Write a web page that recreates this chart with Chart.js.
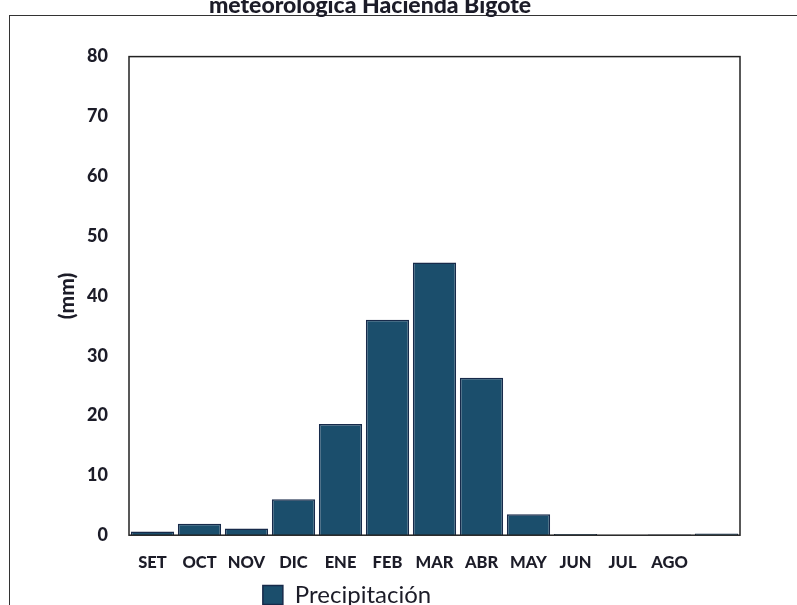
<!DOCTYPE html>
<html>
<head>
<meta charset="utf-8">
<script src="https://cdn.jsdelivr.net/npm/chart.js@4.4.1/dist/chart.umd.min.js"></script>
<style>
  html, body { margin: 0; padding: 0; background: #fff; overflow: hidden; }
  body { width: 797px; height: 605px; position: relative; }
  #frame {
    position: absolute; left: 9px; top: 15px; width: 800px; height: 600px;
    border-left: 1.5px solid #333; border-top: 1.5px solid #333;
  }
  #wrap { position: absolute; left: 0; top: -20px; width: 797px; height: 642px; }
</style>
</head>
<body>
<div id="frame"></div>
<div id="wrap"><canvas id="chart"></canvas></div>
<script>
const months = ["SET", "OCT", "NOV", "DIC", "ENE", "FEB", "MAR", "ABR", "MAY", "JUN", "JUL", "AGO", ""];
const precipitacion = [0.6, 1.9, 1.1, 6.0, 18.6, 36.0, 45.6, 26.3, 3.5, 0.2, 0, 0.1, 0.3];
const yTicks = [0, 10, 20, 30, 40, 50, 60, 70, 80];

const ink = "#1c1c28";
const fontFamily = "Lato, 'Open Sans', sans-serif";

// box round the plot area
const plotBox = {
    id: "plotBox",
    afterDraw(chart) {
        const { ctx, chartArea: a } = chart;
        ctx.save();
        ctx.strokeStyle = "#222";
        ctx.lineWidth = 1.5;
        ctx.strokeRect(a.left, a.top, a.right - a.left, a.bottom - a.top);
        ctx.restore();
    }
};

// legend sits left of centre and a bit higher in the scan
const legendShift = {
    id: "legendShift",
    afterLayout(chart) {
        const lg = chart.legend;
        lg.left -= 23;
        lg.right -= 23;
        lg.top -= 5;
        lg.bottom -= 5;
    }
};

const config = {
    type: "bar",
    data: {
        labels: months,
        datasets: [
            {
                label: "Precipitación",
                data: precipitacion,
                backgroundColor: "#1b4e6c",
                borderColor: "#172a4a",
                borderWidth: 1.5,
                categoryPercentage: 1,
                barPercentage: 0.92
            }
        ]
    },
    options: {
        responsive: true,
        maintainAspectRatio: false,
        animation: false,
        layout: { padding: { left: 0, right: 57, bottom: 0, top: 0 } },
        plugins: {
            title: {
                display: true,
                text: "meteorológica Hacienda Bigote",
                color: ink,
                font: { family: fontFamily, size: 23, weight: 900 },
                padding: { top: 12, bottom: 37 }
            },
            legend: {
                position: "bottom",
                labels: {
                    color: ink,
                    font: { family: fontFamily, size: 24 },
                    boxWidth: 20,
                    boxHeight: 19,
                    padding: 5
                }
            },
            tooltip: { enabled: false }
        },
        scales: {
            x: {
                grid: { display: false },
                border: { display: false },
                ticks: {
                    color: ink,
                    font: { family: fontFamily, size: 16.5, weight: 900 },
                    maxRotation: 0,
                    autoSkip: false,
                    padding: 10
                }
            },
            y: {
                min: 0,
                max: 80,
                afterBuildTicks: (scale) => {
                    scale.ticks = yTicks.map((v) => ({ value: v }));
                },
                afterFit: (scale) => {
                    scale.width = 129;
                },
                grid: { display: false },
                border: { display: false },
                ticks: {
                    color: ink,
                    font: { family: fontFamily, size: 18, weight: 900 },
                    padding: 13
                },
                title: {
                    display: true,
                    text: "(mm)",
                    color: ink,
                    font: { family: fontFamily, size: 21, weight: 900 },
                    padding: { top: 55, bottom: 0 }
                }
            }
        }
    },
    plugins: [plotBox, legendShift]
};

new Chart(document.getElementById("chart"), config);
</script>
</body>
</html>
